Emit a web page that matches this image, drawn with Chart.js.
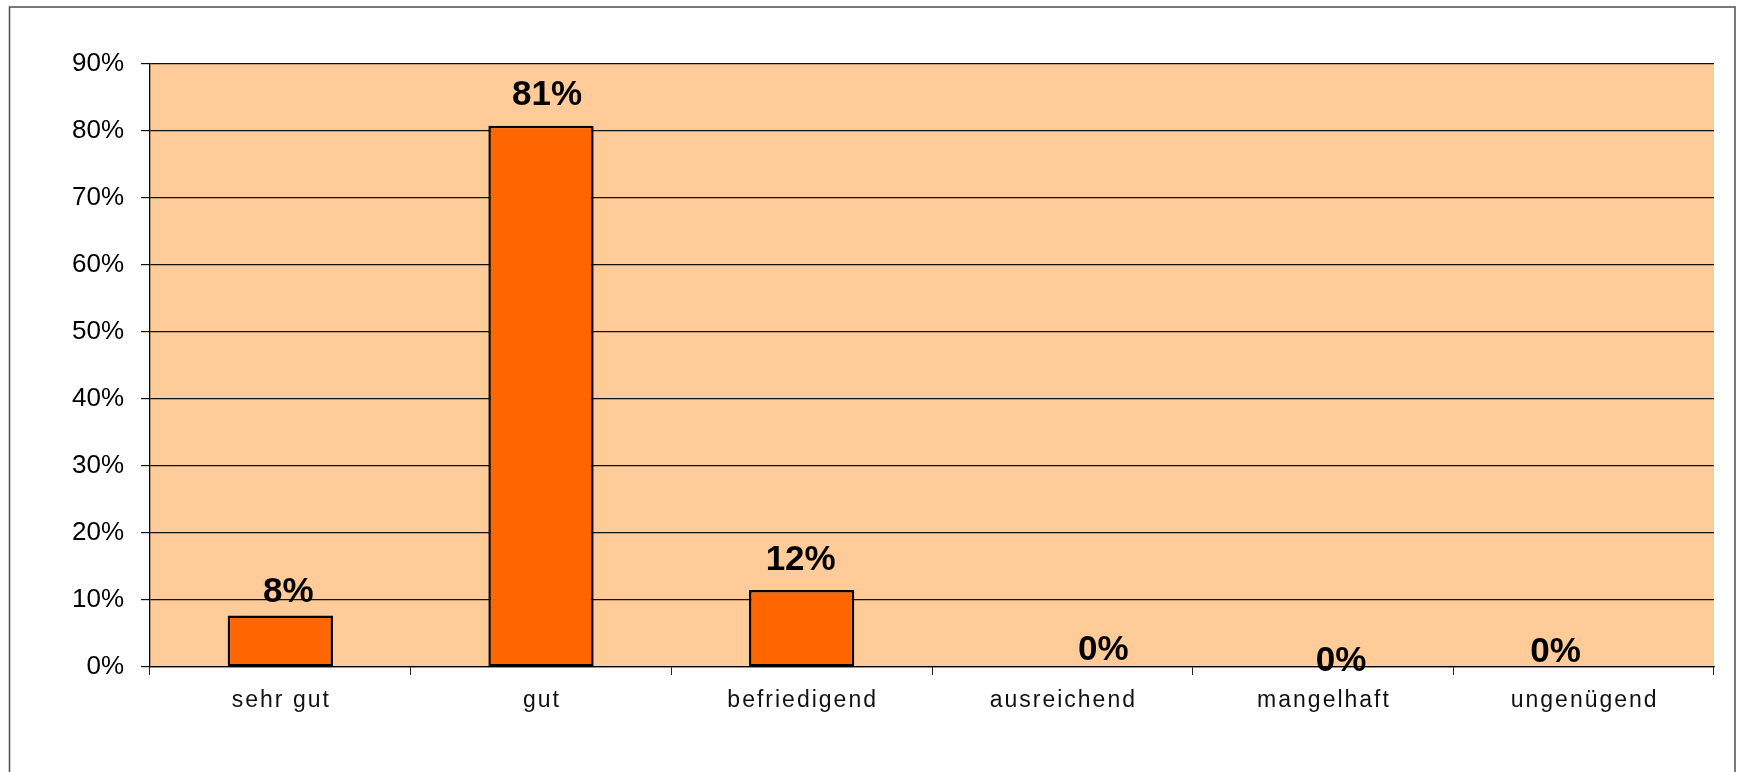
<!DOCTYPE html>
<html>
<head>
<meta charset="utf-8">
<script src="https://cdn.jsdelivr.net/npm/chart.js@4/dist/chart.umd.min.js"></script>
<style>
  html, body { margin: 0; padding: 0; background: #fff; }
  #wrap { width: 1737px; height: 772px; }
</style>
</head>
<body>
<div id="wrap"><canvas id="mycanvas" width="1737" height="772"></canvas></div>
<script>
// grades and share of answers (percent)
var grades = ["sehr gut", "gut", "befriedigend", "ausreichend", "mangelhaft", "ungenügend"];
var shares = [7.7, 80.8, 11.5, 0, 0, 0];
var yTicks = [0, 10, 20, 30, 40, 50, 60, 70, 80, 90];

// where Excel had nudged the value labels (dx, dy in px)
var labelNudge = [[8, 8], [6, 0], [-1, 1], [41, 14], [18, 25], [-28, 16]];

var FONT = '"Liberation Sans", Arial, sans-serif';

var framePlugin = {
    id: 'frame',
    beforeDraw: function (chart) {
        var ctx = chart.ctx, a = chart.chartArea;
        ctx.save();
        ctx.fillStyle = '#ffffff';
        ctx.fillRect(0, 0, chart.width, chart.height);
        ctx.fillStyle = '#ffcc99';
        ctx.fillRect(a.left, a.top, a.right - a.left, a.bottom - a.top);
        ctx.strokeStyle = '#4d4d4d';
        ctx.lineWidth = 1.5;
        ctx.strokeRect(9.5, 7, 1725.5, 820);
        ctx.restore();
    }
};

var labelsPlugin = {
    id: 'valueLabels',
    afterDatasetsDraw: function (chart) {
        var ctx = chart.ctx;
        var meta = chart.getDatasetMeta(0);
        var xScale = chart.scales.x;
        ctx.save();
        ctx.fillStyle = '#000';
        ctx.textAlign = 'center';
        ctx.textBaseline = 'alphabetic';

        ctx.font = 'bold 35px ' + FONT;
        meta.data.forEach(function (bar, i) {
            var n = labelNudge[i];
            ctx.fillText(Math.round(shares[i]) + '%', bar.x + n[0], bar.y - 21 + n[1]);
        });

        // category names, spaced out like the original
        ctx.font = '23px ' + FONT;
        ctx.fillStyle = '#111';
        if ('letterSpacing' in ctx) ctx.letterSpacing = '2px';
        grades.forEach(function (g, i) {
            ctx.fillText(g, xScale.getPixelForValue(i) + 1, xScale.top + 40);
        });
        ctx.restore();
    }
};

var chardata = {
    labels: grades,
    datasets: [
        {
            label: 'Anteil',
            backgroundColor: '#ff6600',
            borderColor: '#000000',
            borderWidth: 2.5,
            borderSkipped: false,
            barPercentage: 0.404,
            categoryPercentage: 1,
            data: shares
        }
    ]
};

var ctx = document.getElementById('mycanvas');

var barGraph = new Chart(ctx, {
    type: 'bar',
    data: chardata,
    plugins: [framePlugin, labelsPlugin],
    options: {
        responsive: false,
        animation: false,
        layout: { padding: { top: 64, right: 23, left: 0, bottom: 0 } },
        plugins: {
            legend: { display: false },
            tooltip: { enabled: false }
        },
        scales: {
            x: {
                grid: {
                    drawOnChartArea: false,
                    drawTicks: true,
                    tickLength: 8,
                    color: '#222'
                },
                border: { color: '#000', width: 1.3 },
                ticks: { display: false },
                afterFit: function (scale) { scale.height = 105; }
            },
            y: {
                min: 0,
                max: 90,
                afterBuildTicks: function (scale) {
                    scale.ticks = yTicks.map(function (v) { return { value: v }; });
                },
                grid: {
                    color: '#111',
                    lineWidth: 1.2,
                    tickLength: 9
                },
                border: { color: '#000', width: 1.3 },
                ticks: {
                    padding: 17,
                    color: '#000',
                    font: { family: FONT, size: 26 },
                    callback: function (v) { return v + '%'; }
                },
                afterFit: function (scale) { scale.width = 150; }
            }
        }
    }
});
</script>
</body>
</html>
